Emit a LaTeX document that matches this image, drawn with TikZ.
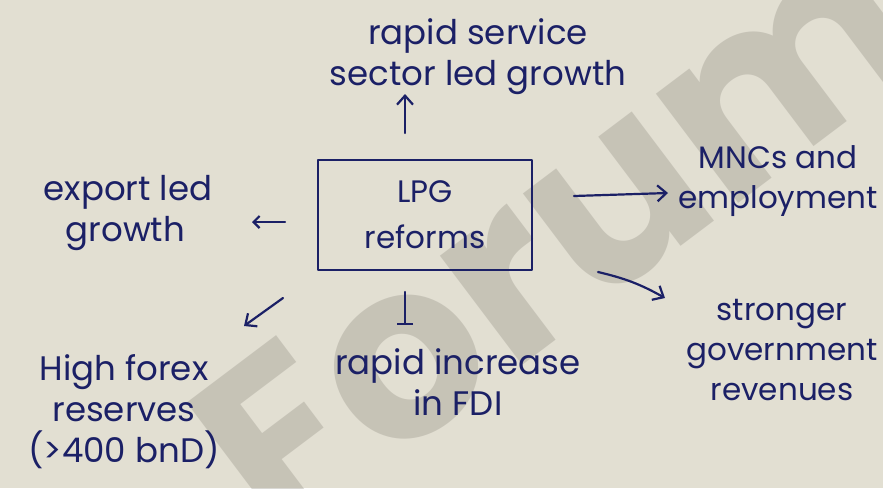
\documentclass[tikz,border=0pt]{standalone}
\usepackage{fontspec}
\setmainfont{Poppins}
\usetikzlibrary{arrows.meta}
\definecolor{paper}{HTML}{E2DFD2}
\definecolor{ink}{HTML}{1B2066}
\definecolor{stamp}{HTML}{8C887D}
\begin{document}
\begin{tikzpicture}[x=1pt,y=-1pt,
  note/.style={text=ink, font=\fontsize{34}{41}\selectfont, align=center, inner sep=0pt},
  side/.style={note, font=\fontsize{31}{40}\selectfont},
  hand/.style={draw=ink, line width=2.2pt, line cap=round, line join=round},
  tip/.style={-{Straight Barb[length=9pt,width=16pt]}}]

% sheet of paper
\fill[paper] (0,0) rectangle (883,488);
\useasboundingbox (0,0) rectangle (883,488);

% diagonal watermark
\node[rotate=37, text=stamp, opacity=0.32, inner sep=0pt,
      font=\fontsize{245}{245}\selectfont\bfseries] (wm) at (555,235) {Forum};

% central box
\node[hand, note, minimum width=214pt, minimum height=110pt,
      font=\fontsize{31}{46}\selectfont] (lpg) at (425,215) {LPG\\reforms};

% outcomes
\node[note] (svc) at (478,57) {rapid service\\sector led growth};
\node[note, align=left] (exp) at (128,213) {export led\\\hspace{22pt}growth};
\node[side] (mnc) at (778,181) {MNCs and\\employment};
\node[side] (gov) at (782,350) {stronger\\government\\revenues};
\node[note] (fx) at (124,412) {High forex\\reserves\\(>400 bnD)};
\node[note] (fdi) at (458,382) {rapid increase\\in FDI};

% arrow end points
\coordinate (upA) at (405,133);  \coordinate (upB) at (405,94);
\coordinate (lfA) at (285,222);  \coordinate (lfB) at (252,222);
\coordinate (dlA) at (283,298);  \coordinate (dlB) at (244,326);
\coordinate (dnA) at (405,292);  \coordinate (dnB) at (405,325);
\coordinate (rtA) at (574,196);  \coordinate (rtB) at (668,193);
\coordinate (drA) at (598,272);  \coordinate (drB) at (665,298);

% arrows
\draw[hand,tip] (upA) -- (upB);
\draw[hand,-{Straight Barb[length=6pt,width=12pt]}] (lfA) -- (lfB);
\draw[hand,tip] (dlA) -- (dlB);
\draw[hand,-{Bar[width=16pt]}] (dnA) -- (dnB);
\draw[hand,tip] (rtA) -- (rtB);
\draw[hand,tip] (drA) to[bend left=8] (drB);
\end{tikzpicture}
\end{document}
